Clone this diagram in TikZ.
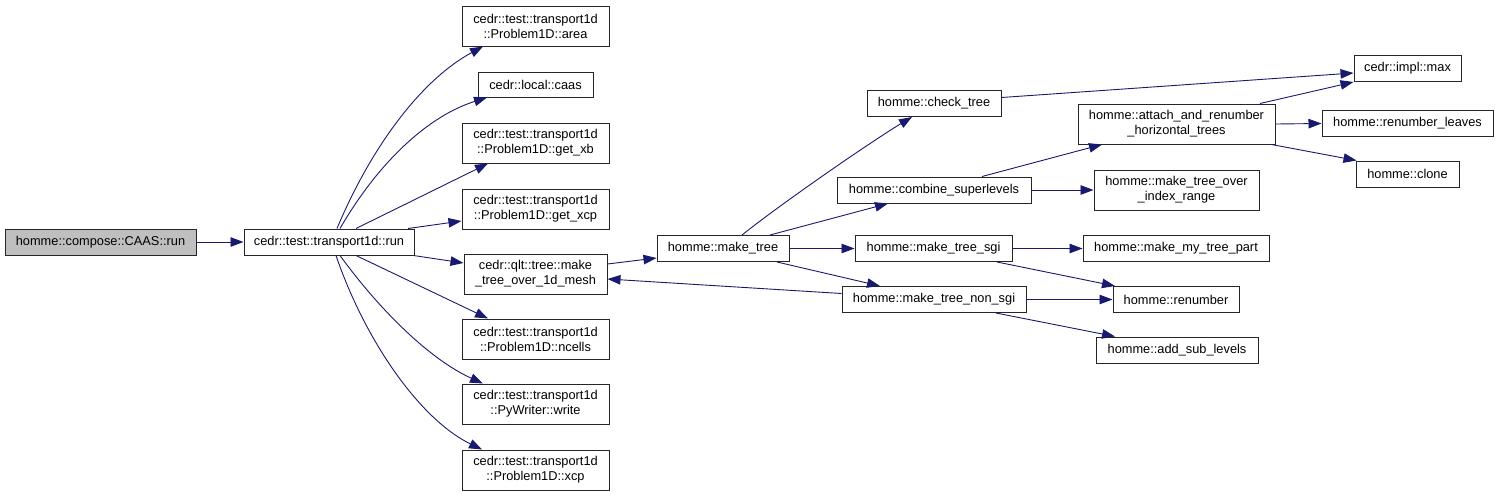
\documentclass[tikz,border=0pt]{standalone}
\usepackage{fontspec}
\setmainfont{Liberation Sans}
\usetikzlibrary{arrows.meta}
\definecolor{edgeblue}{RGB}{25,25,112}
\definecolor{rootgray}{RGB}{191,191,191}

\begin{document}
\begin{tikzpicture}[x=1pt,y=-1pt,
    fn/.style={draw=black!85, line width=1pt, fill=white, minimum height=26pt,
      inner sep=1pt, align=center, font=\fontsize{12.8}{15}\selectfont},
    fntwo/.style={fn, minimum height=40pt},
    call/.style={draw=edgeblue, line width=0.9pt,
      -{Triangle[length=13pt,width=9.5pt,fill=edgeblue]}}]
  \useasboundingbox (0,0) rectangle (1499,496);
  % Caller and the transport run
  \node[fn, fill=rootgray, minimum width=191pt] (caasrun) at (100.5,242) {homme::compose::CAAS::run};
  \node[fn, minimum width=170pt] (run) at (329,242) {cedr::test::transport1d::run};
  % Callees of run (second column)
  \node[fntwo, minimum width=147pt] (area) at (535.5,26) {cedr::test::transport1d\\::Problem1D::area};
  \node[fn, minimum width=115pt, minimum height=25pt] (caas) at (535.5,84.5) {cedr::local::caas};
  \node[fntwo, minimum width=147pt] (getxb) at (535.5,143) {cedr::test::transport1d\\::Problem1D::get\_xb};
  \node[fntwo, minimum width=147pt] (getxcp) at (535.5,209) {cedr::test::transport1d\\::Problem1D::get\_xcp};
  \node[fntwo, minimum width=143pt] (mesh) at (535.5,274) {cedr::qlt::tree::make\\\_tree\_over\_1d\_mesh};
  \node[fntwo, minimum width=147pt] (ncells) at (535.5,339) {cedr::test::transport1d\\::Problem1D::ncells};
  \node[fntwo, minimum width=147pt] (write) at (535.5,404) {cedr::test::transport1d\\::PyWriter::write};
  \node[fntwo, minimum width=147pt] (xcp) at (535.5,470) {cedr::test::transport1d\\::Problem1D::xcp};
  % Tree building
  \node[fn, minimum width=132pt] (maketree) at (723,248.5) {homme::make\_tree};
  \node[fn, minimum width=134pt] (checktree) at (934,103.5) {homme::check\_tree};
  \node[fn, minimum width=194pt] (combine) at (934,190) {homme::combine\_superlevels};
  \node[fn, minimum width=157pt] (sgi) at (933.5,248.5) {homme::make\_tree\_sgi};
  \node[fn, minimum width=184pt] (nonsgi) at (934,299.5) {homme::make\_tree\_non\_sgi};
  % Helpers (right columns)
  \node[fntwo, minimum width=197pt] (attach) at (1176.5,124) {homme::attach\_and\_renumber\\\_horizontal\_trees};
  \node[fntwo, minimum width=165pt] (indexrange) at (1176.5,190) {homme::make\_tree\_over\\\_index\_range};
  \node[fn, minimum width=186pt] (mytreepart) at (1176,248.5) {homme::make\_my\_tree\_part};
  \node[fn, minimum width=126pt] (renumber) at (1176,299.5) {homme::renumber};
  \node[fn, minimum width=162pt] (addsub) at (1177,350) {homme::add\_sub\_levels};
  \node[fn, minimum width=107pt] (max) at (1407.5,68.5) {cedr::impl::max};
  \node[fn, minimum width=171pt] (leaves) at (1407.5,123.5) {homme::renumber\_leaves};
  \node[fn, minimum width=103pt] (clone) at (1407.5,174) {homme::clone};

  % Calls out of run
  \draw[call] (caasrun.east) -- (run.west);
  \draw[call] ([xshift=8]run.north) .. controls +(33,-79) and +(-63,34) .. ([xshift=-52.5]area.south);
  \draw[call] ([xshift=11]run.north) .. controls +(40,-69) and +(-57,18) .. ([xshift=-48.5]caas.south);
  \draw[call] ([xshift=27]run.north) -- ([xshift=-47.5]getxb.south);
  \draw[call] ([xshift=79]run.north) -- ([yshift=-12]getxcp.west);
  \draw[call] ([xshift=-1]run.south east) -- ([yshift=11]mesh.west);
  \draw[call] ([xshift=27]run.south) -- ([xshift=-47.5]ncells.north);
  \draw[call] ([xshift=11]run.south) .. controls +(40,55) and +(-53,-24) .. ([xshift=-52.5]write.north);
  \draw[call] ([xshift=7]run.south) .. controls +(29,85) and +(-62,-30) .. ([xshift=-53.5]xcp.north);
  % Tree calls
  \draw[call] ([yshift=10]mesh.east) -- ([yshift=-9.5]maketree.west);
  \draw[call] ([yshift=6]nonsgi.west) -- ([yshift=-5]mesh.east);
  \draw[call] ([xshift=19]maketree.north) .. controls +(40,-32) and +(-40,24) .. ([xshift=-22]checktree.south);
  \draw[call] ([xshift=47]maketree.north) -- ([xshift=-46]combine.south);
  \draw[call] (maketree.east) -- (sgi.west);
  \draw[call] ([xshift=54]maketree.south) -- ([xshift=-54]nonsgi.north);
  \draw[call] ([yshift=6]checktree.east) -- ([yshift=-4.5]max.west);
  \draw[call] ([xshift=48]combine.north) -- ([xshift=-74.5]attach.south);
  \draw[call] (combine.east) -- (indexrange.west);
  \draw[call] (sgi.east) -- (mytreepart.west);
  \draw[call] ([xshift=63.5]sgi.south) -- ([xshift=-61]renumber.north);
  \draw[call] (nonsgi.east) -- (renumber.west);
  \draw[call] ([xshift=62]nonsgi.south) -- ([xshift=-62]addsub.north);
  \draw[call] ([xshift=83.5]attach.north) -- (max.south west);
  \draw[call] (attach.east) -- (leaves.west);
  \draw[call] ([xshift=-4]attach.south east) -- ([xshift=1]clone.north west);
\end{tikzpicture}
\end{document}
